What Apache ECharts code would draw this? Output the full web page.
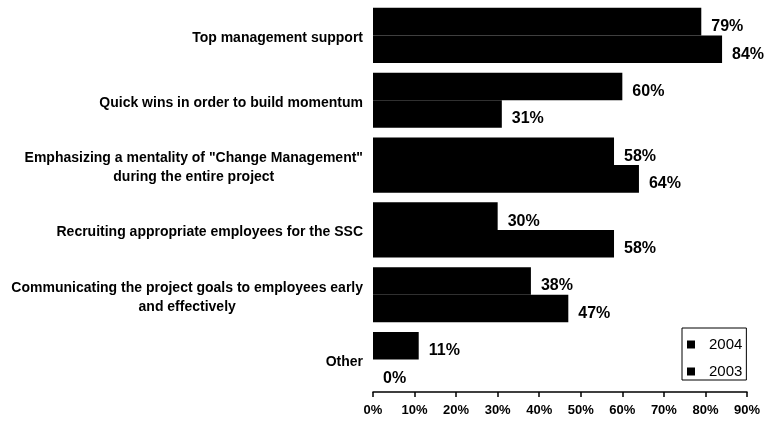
<!DOCTYPE html>
<html>
<head>
<meta charset="utf-8">
<script src="https://cdn.jsdelivr.net/npm/echarts@6/dist/echarts.min.js"></script>
<style>
  html, body { margin: 0; padding: 0; background: #fff; }
  #chart { width: 770px; height: 429px; }
</style>
</head>
<body>
<div id="chart"></div>
<script>
// Success factors for the shared service centre project, share of respondents
const categories = [
  'Top management support',
  'Quick wins in order to build momentum',
  'Emphasizing a mentality of "Change Management"\nduring the entire project',
  'Recruiting appropriate employees for the SSC',
  'Communicating the project goals to employees early\nand effectively',
  'Other'
];
const values2004 = [79, 60, 58, 30, 38, 11];
const values2003 = [84, 31, 64, 58, 47, 0];
const seriesNames = ['2004', '2003'];
const xTicks = [0, 10, 20, 30, 40, 50, 60, 70, 80, 90];

const FONT = '"Liberation Sans", Arial, sans-serif';

const valueLabel = {
  show: true,
  position: 'right',
  distance: 8,
  offset: [2, 5],
  formatter: p => p.value + '%',
  color: '#000',
  fontFamily: FONT,
  fontWeight: 'bold',
  fontSize: 16
};

const chart = echarts.init(document.getElementById('chart'), null, { renderer: 'canvas' });

chart.setOption({
  backgroundColor: '#fff',
  animation: false,
  grid: { left: 373, right: 23, top: 3, bottom: 37, containLabel: false },
  legend: {
    data: seriesNames,
    orient: 'vertical',
    left: 682,
    top: 328,
    width: 63,
    borderColor: '#000',
    borderWidth: 1,
    padding: [9, 4, 1, 5],
    itemGap: 12,
    itemWidth: 8,
    itemHeight: 8,
    icon: 'rect',
    textStyle: {
      color: '#000',
      fontFamily: FONT,
      fontSize: 15,
      padding: [0, 0, 0, 9]
    }
  },
  xAxis: {
    type: 'value',
    min: xTicks[0],
    max: xTicks[xTicks.length - 1],
    interval: 10,
    splitLine: { show: false },
    axisLine: { show: true, lineStyle: { color: '#000', width: 1.5 } },
    axisTick: { show: true, length: 5, lineStyle: { color: '#000', width: 1.5 } },
    axisLabel: {
      formatter: v => v + '%',
      color: '#000',
      fontFamily: FONT,
      fontWeight: 'bold',
      fontSize: 13,
      margin: 12
    }
  },
  yAxis: {
    type: 'category',
    data: categories,
    inverse: true,
    axisLine: { show: false },
    axisTick: { show: false },
    axisLabel: {
      align: 'right',
      margin: 10,
      padding: [5, 0, 0, 0],
      // each line centred within the right-aligned label block
      formatter: v => v.split('\n').map(line => '{c|' + line + '}').join('\n'),
      rich: {
        c: {
          align: 'center',
          color: '#000',
          fontFamily: FONT,
          fontWeight: 'bold',
          fontSize: 14,
          lineHeight: 19
        }
      }
    }
  },
  series: [
    {
      name: seriesNames[0],
      type: 'bar',
      data: values2004,
      barGap: '0%',
      barCategoryGap: '15%',
      itemStyle: { color: '#000' },
      label: valueLabel
    },
    {
      name: seriesNames[1],
      type: 'bar',
      data: values2003,
      barGap: '0%',
      barCategoryGap: '15%',
      itemStyle: { color: '#000' },
      label: valueLabel
    }
  ]
});
</script>
</body>
</html>
